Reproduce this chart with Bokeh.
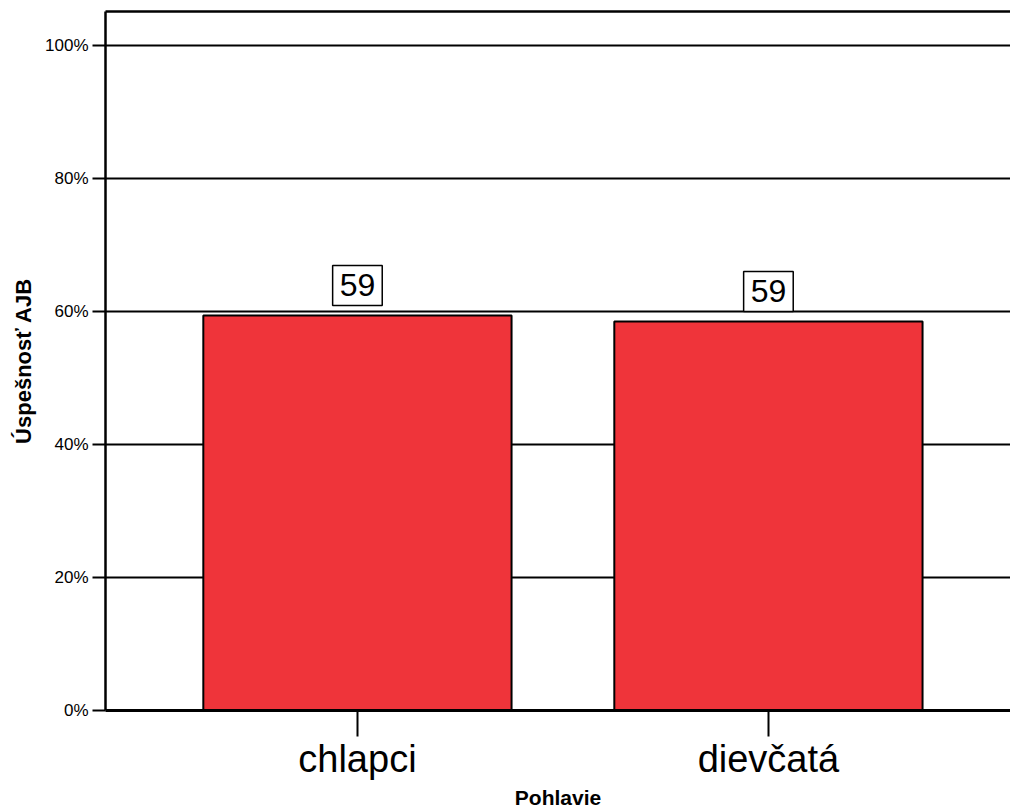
from bokeh.plotting import figure
from bokeh.models import ColumnDataSource, Range1d, FixedTicker, LinearAxis
from bokeh.core.properties import value
from bokeh.embed import file_html
from bokeh.resources import INLINE

categories = ["chlapci", "dievčatá"]
success = [59.4, 58.5]
bar_labels = ["59", "59"]
y_ticks = [0, 20, 40, 60, 80, 100]
y_tick_labels = ["0%", "20%", "40%", "60%", "80%", "100%"]

xpos = list(range(1, len(categories) + 1))
src = ColumnDataSource(dict(x=xpos, top=success, label=bar_labels))

FONT = "Liberation Sans"

p = figure(width=1010, height=811, output_backend="svg", toolbar_location=None,
           x_range=Range1d(0.387, 2.589), y_range=Range1d(0, 105.1),
           x_axis_label="Pohlavie", y_axis_label="Úspešnosť AJB")
p.min_border_left = 105
p.min_border_right = 0
p.min_border_top = 11
p.min_border_bottom = 101
p.outline_line_color = None
p.background_fill_color = "white"
p.border_fill_color = "white"

p.vbar(x="x", top="top", width=0.75, bottom=0, source=src,
       fill_color="#EF343A", line_color="black", line_width=2)

p.text(x="x", y="top", text="label", source=src,
       text_align="center", text_baseline="bottom", y_offset=-10,
       text_font=value(FONT), text_font_size="32px", text_color="black",
       background_fill_color="white", border_line_color="black",
       border_line_width=1.5, padding=dict(x=7, y=9))

# y axis
ya = p.yaxis[0]
ya.ticker = FixedTicker(ticks=y_ticks)
ya.major_label_overrides = {t: l for t, l in zip(y_ticks, y_tick_labels)}
ya.major_label_text_font = FONT
ya.major_label_text_font_size = "17px"
ya.major_label_text_color = "black"
ya.major_tick_out = 13
ya.major_tick_in = 0
ya.major_tick_line_width = 2
ya.major_tick_line_color = "black"
ya.minor_tick_line_color = None
ya.axis_line_width = 2.5
ya.axis_line_color = "black"
ya.major_label_standoff = 4
ya.axis_label_text_font = FONT
ya.axis_label_text_font_style = "bold"
ya.axis_label_text_font_size = "22px"
ya.axis_label_text_color = "black"
ya.axis_label_standoff = 6

# x axis
xa = p.xaxis[0]
xa.ticker = FixedTicker(ticks=xpos)
xa.major_label_overrides = {x: c for x, c in zip(xpos, categories)}
xa.major_label_text_font = FONT
xa.major_label_text_font_size = "38px"
xa.major_label_text_color = "black"
xa.major_tick_out = 26
xa.major_tick_in = 0
xa.major_tick_line_width = 2
xa.major_tick_line_color = "black"
xa.minor_tick_line_color = None
xa.axis_line_width = 3
xa.axis_line_color = "black"
xa.major_label_standoff = 1
xa.axis_label_text_font = FONT
xa.axis_label_text_font_style = "bold"
xa.axis_label_text_font_size = "21px"
xa.axis_label_text_color = "black"
xa.axis_label_standoff = 3

# top border
top_axis = LinearAxis(ticker=FixedTicker(ticks=[]), axis_line_width=2.5,
                      axis_line_color="black", major_tick_line_color=None,
                      minor_tick_line_color=None, major_label_text_font_size="0px")
p.add_layout(top_axis, "above")

p.xgrid.visible = False
p.ygrid.ticker = FixedTicker(ticks=y_ticks)
p.ygrid.grid_line_color = "black"
p.ygrid.grid_line_width = 2

open("out.html", "w").write(file_html(p, INLINE))
